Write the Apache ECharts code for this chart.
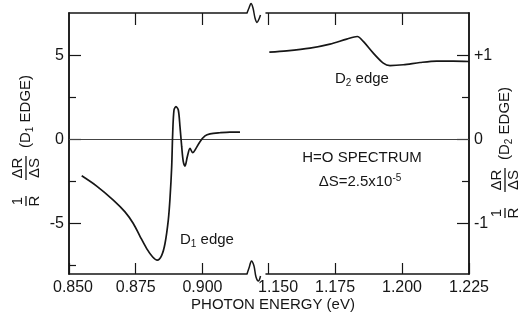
<!DOCTYPE html>
<html><head><meta charset="utf-8">
<script src="https://cdn.jsdelivr.net/npm/echarts@6/dist/echarts.min.js"></script>
<style>html,body{margin:0;padding:0;background:#fff}#c{width:521px;height:320px}</style>
</head><body><div id="c"></div>
<script>
// ---- data ----
const d1Energy = [0.85476,0.86037,0.86659,0.87097,0.87408,0.87659,0.87910,0.88135,0.88307,0.88472,0.88596,0.88719,0.88783,0.88846,0.88884,0.88933,0.89007,0.89094,0.89157,0.89221,0.89281,0.89345,0.89431,0.89532,0.89633,0.89757,0.89906,0.90094,0.90281,0.90655,0.91030,0.91404];
const d1Signal = [-2.17,-2.78,-3.61,-4.31,-5.00,-5.76,-6.49,-6.99,-7.18,-6.89,-6.19,-4.80,-3.51,-1.63,0.36,1.74,1.94,1.74,0.75,-0.44,-1.33,-1.59,-1.04,-0.54,-0.80,-0.54,-0.14,0.20,0.32,0.39,0.43,0.43];
const d2Energy = [1.15049,1.15698,1.16567,1.17313,1.17937,1.18332,1.18556,1.18929,1.19302,1.19552,1.20049,1.20672,1.21295,1.21914,1.22500];
const d2Signal = [1.036,1.051,1.083,1.131,1.190,1.221,1.162,1.024,0.905,0.876,0.885,0.912,0.929,0.929,0.924];
const leftXTicks = [0.850, 0.875, 0.900];
const leftTopTicks = [0.875, 0.900];
const rightXTicks = [1.150, 1.175, 1.200, 1.225];
const rightTopTicks = [1.150, 1.175, 1.200];
const leftYTicks = [-5, 0, 5];
const leftYMinor = [-7.5, -2.5, 2.5];
const rightYTicks = [-1, 0, 1];
const rightYMinor = [-0.5, 0.5];
const zeroLevel = [0];

const ink = '#161616';
const FF = 'Liberation Sans';
const chart = echarts.init(document.getElementById('c'), null, {renderer: 'canvas'});

const G_TOP = 13, G_H = 261;
function xAxisBase(grid, min, max, pos) {
  return {type: 'value', gridIndex: grid, min: min, max: max, position: pos,
    axisLine: {show: true, onZero: false, lineStyle: {color: ink, width: 1.5}},
    splitLine: {show: false}, axisTick: {show: false}, axisLabel: {show: false}};
}
const xl = xAxisBase(0, 0.850, 0.91667, 'bottom');
xl.axisTick = {show: true, inside: true, length: 11, customValues: leftXTicks, lineStyle: {color: ink, width: 1.2}};
xl.axisLabel = {show: true, customValues: leftXTicks, margin: 6, color: ink, fontFamily: FF, fontSize: 16,
  formatter: v => (Math.abs(v - 0.85) < 1e-6 ? '{a|' + v.toFixed(3) + '}' : v.toFixed(3)),
  rich: {a: {padding: [0, 0, 0, 8], fontFamily: FF, fontSize: 16, color: ink}}};
const xlt = xAxisBase(0, 0.850, 0.91667, 'top');
xlt.axisTick = {show: true, inside: true, length: 12, customValues: leftTopTicks, lineStyle: {color: ink, width: 1.2}};
const xr = xAxisBase(1, 1.14925, 1.225, 'bottom');
xr.axisTick = {show: true, inside: true, length: 11, customValues: rightXTicks, lineStyle: {color: ink, width: 1.2}};
xr.axisLabel = {show: true, customValues: rightXTicks, margin: 6, color: ink, fontFamily: FF, fontSize: 16,
  formatter: v => (Math.abs(v - 1.15) < 1e-6 ? '{a|' + v.toFixed(3) + '}' : v.toFixed(3)),
  rich: {a: {padding: [0, 0, 0, 20], fontFamily: FF, fontSize: 16, color: ink}}};
const xrt = xAxisBase(1, 1.14925, 1.225, 'top');
xrt.axisTick = {show: true, inside: true, length: 12, customValues: rightTopTicks, lineStyle: {color: ink, width: 1.2}};
const xz = {type: 'value', gridIndex: 2, min: 0, max: 1, show: false};

function yAxisBase(grid, min, max, pos) {
  return {type: 'value', gridIndex: grid, min: min, max: max, position: pos,
    axisLine: {show: true, onZero: false, lineStyle: {color: ink, width: 1.5}},
    splitLine: {show: false}, axisTick: {show: false}, axisLabel: {show: false}};
}
const yl = yAxisBase(0, -8, 7.5, 'left');
yl.axisTick = {show: true, inside: true, length: 12, customValues: leftYTicks, lineStyle: {color: ink, width: 1.2}};
yl.axisLabel = {show: true, customValues: leftYTicks, margin: 5, color: ink, fontFamily: FF, fontSize: 16};
const ylm = yAxisBase(0, -8, 7.5, 'left');
ylm.axisTick = {show: true, inside: true, length: 7, customValues: leftYMinor, lineStyle: {color: ink, width: 1.2}};
const yr = yAxisBase(1, -1.6, 1.5, 'right');
yr.axisTick = {show: true, inside: true, length: 12, customValues: rightYTicks, lineStyle: {color: ink, width: 1.2}};
yr.axisLabel = {show: true, customValues: rightYTicks, margin: 5, color: ink, fontFamily: FF, fontSize: 16,
  formatter: v => (v > 0 ? '+' + v : String(v))};
const yrm = yAxisBase(1, -1.6, 1.5, 'right');
yrm.axisTick = {show: true, inside: true, length: 7, customValues: rightYMinor, lineStyle: {color: ink, width: 1.2}};
const yz = {type: 'value', gridIndex: 2, min: -8, max: 7.5, show: false};

const sub = {fontSize: 10, fontFamily: FF, fill: ink, padding: [8, 0, 0, 0]};
const sup = {fontSize: 10, fontFamily: FF, fill: ink, padding: [0, 0, 8, 0]};
function txt(x, y, text, size, align, va) {
  return {type: 'text', x: x, y: y, silent: true,
    style: {text: text, fontFamily: FF, fontSize: size || 15, fill: ink, align: align || 'left', verticalAlign: va || 'middle',
      rich: {s: Object.assign({}, sub, {fontSize: 10}), p: sup}}};
}
function line(x1, y1, x2, y2, w) {
  return {type: 'line', silent: true, shape: {x1: x1, y1: y1, x2: x2, y2: y2}, style: {stroke: ink, lineWidth: w || 1.3}};
}
function yTitle(x, y, idx) {
  return {type: 'group', x: x, y: y, rotation: Math.PI / 2, children: [
    txt(5, -1, '1', 15, 'center', 'bottom'),
    line(0, 0, 10, 0),
    txt(5, 1, 'R', 15, 'center', 'top'),
    txt(38, -1, 'ΔR', 15, 'center', 'bottom'),
    line(26, 0, 50, 0),
    txt(38, 1, 'ΔS', 15, 'center', 'top'),
    txt(58, 0, '(D{s|' + idx + '} EDGE)', 15, 'left', 'middle')
  ]};
}

const option = {
  backgroundColor: '#fff',
  animation: false,
  grid: [
    {left: 69, top: G_TOP, width: 178, height: G_H},
    {left: 266, top: G_TOP, width: 203, height: G_H},
    {left: 69, top: G_TOP, width: 400, height: G_H}
  ],
  xAxis: [xl, xlt, xr, xrt, xz],
  yAxis: [yl, ylm, yr, yrm, yz],
  series: [
    {type: 'line', name: 'D1', xAxisIndex: 0, yAxisIndex: 0, data: d1Energy.map((e, i) => [e, d1Signal[i]]),
      showSymbol: false, smooth: 0.3, lineStyle: {color: ink, width: 1.7}, z: 5},
    {type: 'line', name: 'D2', xAxisIndex: 2, yAxisIndex: 2, data: d2Energy.map((e, i) => [e, d2Signal[i]]),
      showSymbol: false, smooth: 0.3, lineStyle: {color: ink, width: 1.7}, z: 5},
    {type: 'line', name: 'zero', xAxisIndex: 4, yAxisIndex: 4, data: [],
      markLine: {silent: true, symbol: ['none', 'none'], label: {show: false},
        lineStyle: {color: '#444', width: 1, type: 'solid'},
        data: zeroLevel.map(v => ({yAxis: v}))}}
  ],
  graphic: [
    {type: 'polyline', silent: true, shape: {smooth: 0.35, points: [[247,13],[249,8],[251,3.5],[253,8],[255,18],[257,22.5],[259,19],[260.5,15]]}, style: {stroke: ink, lineWidth: 1.5, fill: null}},
    {type: 'polyline', silent: true, shape: {smooth: 0.35, points: [[247,274],[249,268],[251.5,261],[254,266],[256,277],[258.5,281],[260.5,276]]}, style: {stroke: ink, lineWidth: 1.5, fill: null}},
    txt(180, 240, 'D{s|1} edge', 15),
    txt(335, 79, 'D{s|2} edge', 15),
    txt(362, 158, 'H=O SPECTRUM', 15, 'center'),
    txt(360, 182, 'ΔS=2.5x10{p|-5}', 15, 'center'),
    txt(273, 305, 'PHOTON ENERGY (eV)', 15, 'center'),
    yTitle(26, 206, 1),
    yTitle(505, 218, 2)
  ]
};
chart.setOption(option);
</script></body></html>
